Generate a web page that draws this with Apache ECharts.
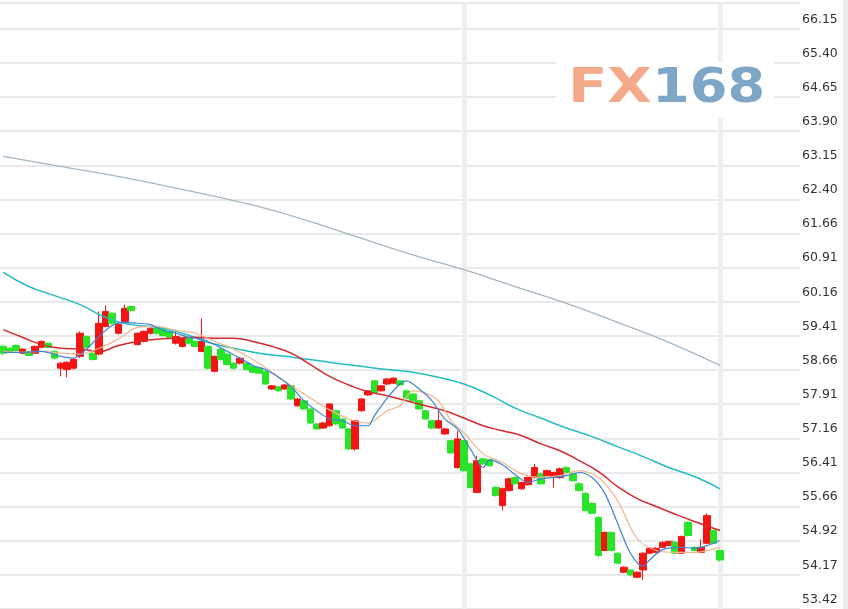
<!DOCTYPE html>
<html>
<head>
<meta charset="utf-8">
<script src="https://cdn.jsdelivr.net/npm/echarts@6/dist/echarts.min.js"></script>
<style>
html,body{margin:0;padding:0;background:#fff;}
#chart{width:848px;height:609px;}
</style>
</head>
<body>
<div id="chart"></div>
<script>
// ---------- DATA ----------
// y-axis tick labels (bottom to top)
const yLabels = ['53.42','54.17','54.92','55.66','56.41','57.16','57.91','58.66','59.41','60.16','60.91','61.66','62.40','63.15','63.90','64.65','65.40','66.15'];

// daily candles: [open, close, low, high]
const ohlc = [
[59.21,59.06,59.01,59.25],[59.17,59.08,59.06,59.19],[59.23,59.12,59.10,59.25],[59.06,59.15,59.04,59.17],[59.10,59.01,58.99,59.12],
[59.06,59.21,59.04,59.23],[59.19,59.32,59.17,59.34],[59.28,59.19,59.17,59.30],[59.10,58.95,58.92,59.12],[58.73,58.84,58.55,58.86],
[58.70,58.86,58.53,58.88],[58.73,58.92,58.70,58.95],[58.99,59.50,58.95,59.54],[59.43,59.19,59.17,59.45],[59.06,58.92,58.90,59.08],
[59.04,59.72,59.01,59.98],[59.65,59.98,59.63,60.11],[59.94,59.72,59.69,59.96],[59.50,59.69,59.47,59.72],[59.76,60.05,59.74,60.13],
[60.09,60.00,59.98,60.11],[59.25,59.50,59.23,59.52],[59.32,59.54,59.30,59.56],[59.50,59.61,59.47,59.63],[59.61,59.50,59.47,59.63],
[59.58,59.45,59.43,59.61],[59.54,59.41,59.39,59.56],[59.28,59.43,59.25,59.58],[59.21,59.39,59.19,59.41],[59.39,59.28,59.25,59.41],
[59.32,59.21,59.19,59.34],[59.10,59.32,59.08,59.83],[59.21,58.73,58.70,59.23],[58.66,58.99,58.64,59.01],[59.15,58.92,58.90,59.17],
[59.04,58.81,58.79,59.06],[58.84,58.73,58.70,58.86],[58.84,58.95,58.81,58.97],[58.84,58.70,58.68,58.86],[58.77,58.64,58.62,58.79],
[58.73,58.62,58.60,58.75],[58.66,58.38,58.36,58.68],[58.27,58.34,58.25,58.36],[58.32,58.23,58.21,58.34],[58.27,58.36,58.25,58.38],
[58.34,58.05,58.03,58.36],[57.90,58.05,57.88,58.07],[58.01,57.83,57.81,58.03],[57.83,57.52,57.50,57.85],[57.50,57.39,57.37,57.52],
[57.41,57.52,57.39,57.55],[57.46,57.94,57.44,57.96],[57.79,57.50,57.48,57.81],[57.61,57.41,57.39,57.63],[57.39,56.95,56.93,57.41],
[56.95,57.57,56.91,57.59],[57.79,58.05,57.77,58.07],[58.14,58.23,58.12,58.25],[58.45,58.18,58.16,58.47],[58.23,58.34,58.21,58.36],
[58.38,58.49,58.36,58.51],[58.40,58.51,58.38,58.53],[58.45,58.36,58.34,58.47],[58.23,58.07,58.05,58.25],[58.16,58.01,57.99,58.18],
[58.01,57.83,57.81,58.03],[57.79,57.61,57.59,57.81],[57.57,57.41,57.39,57.59],[57.41,57.57,57.39,57.79],[57.28,57.39,57.26,57.41],
[57.13,56.86,56.84,57.15],[56.54,57.17,56.51,57.35],[57.13,56.47,56.45,57.15],[56.62,56.10,56.07,56.65],[55.99,56.69,55.97,56.80],
[56.73,56.62,56.60,56.75],[56.71,56.58,56.56,56.73],[56.10,55.92,55.90,56.12],[55.70,56.07,55.59,56.10],[56.03,56.29,56.01,56.32],
[56.32,56.18,56.16,56.34],[56.07,56.21,56.05,56.23],[56.16,56.32,56.14,56.34],[56.32,56.54,56.29,56.62],[56.40,56.18,56.16,56.43],
[56.36,56.47,56.34,56.49],[56.32,56.43,56.10,56.45],[56.32,56.51,56.29,56.54],[56.54,56.43,56.40,56.56],[56.40,56.25,56.23,56.43],
[56.18,56.03,56.01,56.21],[55.97,55.59,55.57,55.99],[55.75,55.53,55.51,55.77],[55.44,54.60,54.56,55.46],[54.71,55.11,54.69,55.13],
[55.11,54.71,54.69,55.13],[54.65,54.43,54.41,54.67],[54.23,54.34,54.21,54.36],[54.28,54.17,54.14,54.30],[54.12,54.23,54.10,54.25],
[54.28,54.65,54.06,54.67],[54.65,54.76,54.63,54.78],[54.67,54.76,54.65,54.78],[54.78,54.89,54.76,54.91],[54.82,54.91,54.80,54.93],
[54.89,54.65,54.63,54.91],[54.65,55.02,54.63,55.04],[55.33,55.04,55.02,55.35],[54.78,54.71,54.69,54.80],[54.67,54.78,54.65,54.95],
[54.87,55.48,54.85,55.53],[55.15,54.87,54.85,55.17],[54.71,54.50,54.47,54.73]
];

// moving-average lines, read at sampled candle indexes
const maLongIdx = [0,8,16,24,32,40,48,56,64,72,80,88,96,104,112];
const maLongVal = [63.40,63.20,63.01,62.79,62.55,62.29,61.96,61.59,61.23,60.90,60.53,60.16,59.74,59.30,58.79];

const maCyanIdx = [0,4,8,12,16,20,24,28,32,36,40,44,48,52,56,60,64,68,72,76,80,84,88,92,96,100,104,108,112];
const maCyanVal = [60.84,60.53,60.33,60.13,59.85,59.69,59.63,59.50,59.30,59.17,59.06,58.99,58.92,58.84,58.77,58.70,58.64,58.53,58.38,58.14,57.85,57.63,57.41,57.22,57.00,56.78,56.54,56.34,56.07];

const maRedIdx = [0,3,6,9,12,15,18,21,24,27,30,33,36,39,42,45,48,51,54,57,60,63,66,69,72,75,78,81,84,87,90,93,96,99,102,105,108,112];
const maRedVal = [59.58,59.41,59.25,59.17,59.15,59.10,59.23,59.32,59.37,59.39,59.41,59.39,59.39,59.32,59.21,59.06,58.81,58.55,58.36,58.21,58.12,58.01,57.90,57.79,57.63,57.46,57.35,57.24,57.06,56.91,56.69,56.45,56.12,55.86,55.68,55.51,55.35,55.15];

const maOrangeIdx = [0,3,6,9,12,15,18,21,24,27,30,33,36,39,42,45,48,51,54,57,60,62,64,66,68,70,72,75,78,81,84,87,90,93,96,99,102,105,108,112];
const maOrangeVal = [59.10,59.08,59.10,59.06,59.04,59.17,59.37,59.63,59.65,59.56,59.50,59.32,59.15,58.92,58.64,58.34,58.07,57.81,57.61,57.52,57.79,57.90,58.23,58.18,58.01,57.57,57.30,56.84,56.65,56.40,56.32,56.36,56.47,56.32,55.81,54.98,54.71,54.67,54.67,54.78];

const maBlueIdx = [0,3,6,9,11,13,15,17,19,21,23,25,27,29,31,33,35,37,39,41,43,45,47,49,51,53,55,57,58,60,62,63,65,67,69,71,73,75,76,78,80,82,84,86,88,90,92,94,96,98,100,101,103,106,108,110,112];
const maBlueVal = [59.08,59.08,59.10,58.99,58.95,59.15,59.43,59.67,59.74,59.72,59.69,59.56,59.50,59.41,59.37,59.25,59.10,58.95,58.79,58.70,58.53,58.32,58.01,57.79,57.61,57.57,57.46,57.46,57.68,58.07,58.38,58.45,58.27,58.01,57.61,57.39,56.95,56.54,56.71,56.60,56.38,56.21,56.29,56.32,56.36,56.43,56.32,55.97,55.31,54.65,54.36,54.50,54.73,54.78,54.76,54.82,54.93];

// candle indexes carrying the light vertical separators
const separatorIdx = [72, 112];

// ---------- CHART ----------
const SLOTS = 125; // trading-day slots on the x axis (data + empty space on the right)
const categories = Array.from({length: SLOTS}, (_, i) => String(i + 1));
const Y_MIN = 53.42;
const Y_STEP = 0.7523943662; // 53.42 = 71 * Y_STEP
const Y_MAX = 66.781;

const pairs = (idx, val) => idx.map((d, k) => [d, val[k]]);

const chart = echarts.init(document.getElementById('chart'), null, {renderer: 'canvas'});
const lineSeries = (data, color, width, smooth) => ({
  type: 'line', data: data, symbol: 'none', smooth: smooth, silent: true,
  lineStyle: {color: color, width: width}, z: 3
});

chart.setOption({
  animation: false,
  backgroundColor: '#ffffff',
  grid: {left: 0, right: 48, top: 0, bottom: 0},
  xAxis: {
    type: 'category', data: categories, boundaryGap: true,
    axisLine: {show: false}, axisTick: {show: false}, axisLabel: {show: false}, splitLine: {show: false}
  },
  yAxis: {
    type: 'value', position: 'right', min: Y_MIN, max: Y_MAX, interval: Y_STEP, scale: true,
    axisLine: {show: false}, axisTick: {show: false},
    splitLine: {show: true, lineStyle: {color: '#e9e9e9', width: 2}},
    axisLabel: {
      margin: 2, color: '#333333', fontFamily: 'DejaVu Sans', fontSize: 12.5,
      verticalAlign: 'bottom', lineHeight: 13, padding: [0, 0, 3, 0],
      formatter: function (v) {
        const k = Math.round((v - Y_MIN) / Y_STEP);
        if (Math.abs(v - (Y_MIN + k * Y_STEP)) > 1e-6) return '';
        return yLabels[k] || '';
      }
    }
  },
  series: [
    {
      type: 'candlestick', data: ohlc, barWidth: 7, silent: true, z: 2,
      itemStyle: {color: '#f51414', color0: '#27e427', borderColor: '#f51414', borderColor0: '#27e427', borderWidth: 1},
      markLine: {
        silent: true, symbol: 'none', label: {show: false}, z: 1,
        lineStyle: {color: '#efefef', width: 5, type: 'solid'},
        data: separatorIdx.map(i => ({xAxis: categories[i]}))
      }
    },
    lineSeries(pairs(maLongIdx, maLongVal), '#a3b7c4', 1.3, true),
    lineSeries(pairs(maCyanIdx, maCyanVal), '#22bcc4', 1.5, true),
    lineSeries(pairs(maRedIdx, maRedVal), '#d42a2e', 1.5, true),
    lineSeries(pairs(maOrangeIdx, maOrangeVal), '#f0b68e', 1.2, 0.3),
    lineSeries(pairs(maBlueIdx, maBlueVal), '#3f82d6', 1.2, 0.3)
  ],
  graphic: [
    {type: 'rect', z: 100, shape: {x: 843, y: 0, width: 5, height: 609}, style: {fill: '#ececec'}},
    {type: 'rect', z: 100, shape: {x: 556, y: 62, width: 218, height: 56}, style: {fill: '#ffffff'}},
    {type: 'text', z: 101, x: 568, y: 90, scaleX: 1.2,
      style: {text: 'FX', fill: '#f4a98b', font: 'bold 48px "DejaVu Sans"', align: 'left', verticalAlign: 'middle'}},
    {type: 'text', z: 101, x: 652, y: 90, scaleX: 1.13,
      style: {text: '168', fill: '#7ea6c7', font: 'bold 48px "DejaVu Sans"', align: 'left', verticalAlign: 'middle'}}
  ]
});
</script>
</body>
</html>
